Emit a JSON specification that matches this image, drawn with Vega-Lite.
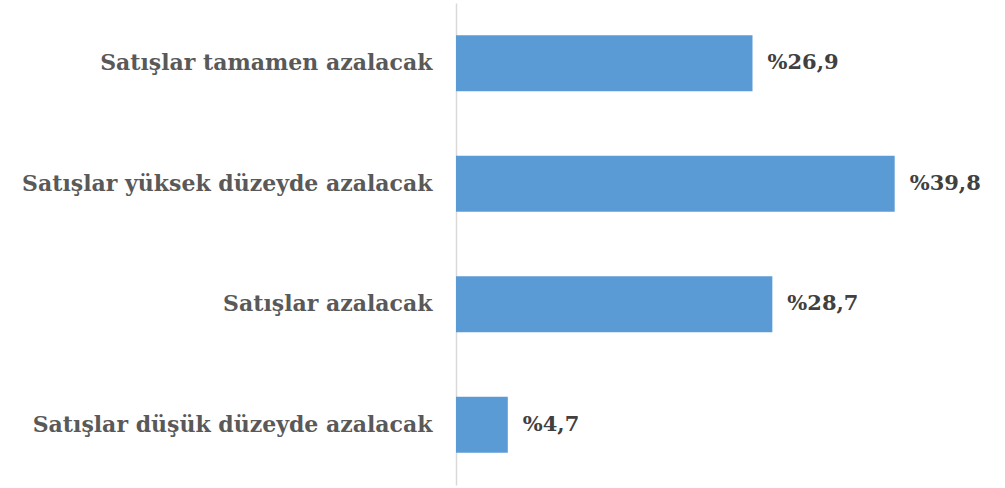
{
  "$schema": "https://vega.github.io/schema/vega-lite/v6.json",
  "autosize": "none",
  "width": 496,
  "height": 482,
  "padding": {"left": 456, "top": 3, "right": 53, "bottom": 3},
  "background": "white",
  "config": {"view": {"stroke": null}, "font": "DejaVu Serif"},
  "data": {"values": [
    {"category": "Satışlar tamamen azalacak", "value": 26.9, "label": "%26,9"},
    {"category": "Satışlar yüksek düzeyde azalacak", "value": 39.8, "label": "%39,8"},
    {"category": "Satışlar azalacak", "value": 28.7, "label": "%28,7"},
    {"category": "Satışlar düşük düzeyde azalacak", "value": 4.7, "label": "%4,7"}
  ]},
  "encoding": {
    "y": {"field": "category", "type": "nominal", "sort": null,
      "scale": {"paddingInner": 0.535, "paddingOuter": 0.2675},
      "axis": {"title": null, "ticks": false, "labelPadding": 24, "domainColor": "#d9d9d9", "domainWidth": 1.5,
        "labelFont": "DejaVu Serif", "labelFontSize": 22, "labelFontWeight": "bold", "labelColor": "#595959", "labelLimit": 500}},
    "x": {"field": "value", "type": "quantitative", "scale": {"domain": [0, 45]}, "axis": null}
  },
  "layer": [
    {"mark": {"type": "bar", "color": "#5b9bd5"}},
    {"mark": {"type": "text", "align": "left", "baseline": "middle", "dx": 15, "fontSize": 21, "fontWeight": "bold", "color": "#404040", "font": "DejaVu Serif"},
     "encoding": {"text": {"field": "label"}}}
  ]
}
